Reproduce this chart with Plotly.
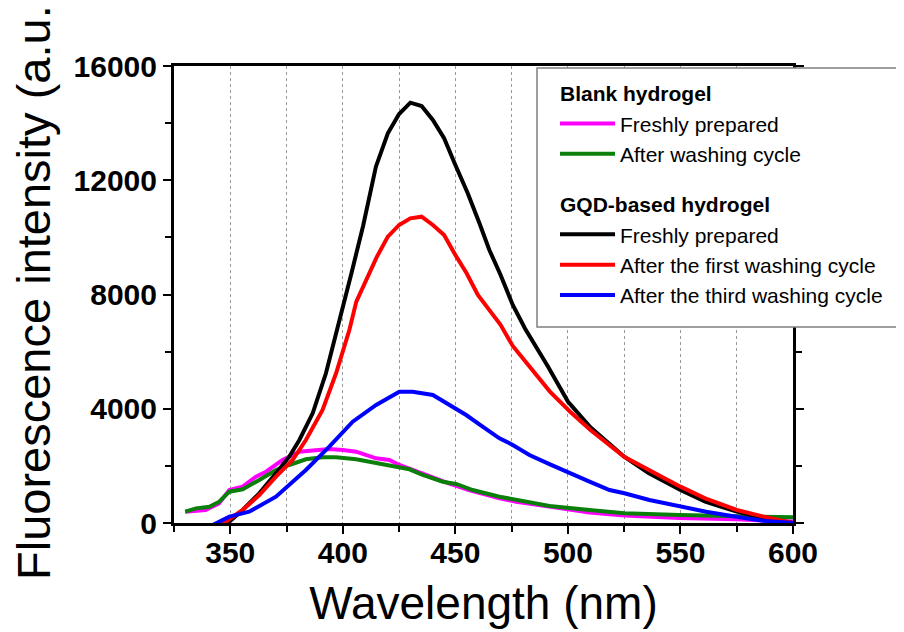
import plotly.graph_objects as go

# ---- data ----
blank_fresh_wl = [330, 339, 345, 349.6, 355.5, 361.4, 365.9, 373.2, 380.7, 389.6, 394, 400, 405.9,
                  414.8, 420.7, 425.1, 431, 440, 447.1, 456, 469.6, 477, 491.8, 509.6, 525.1,
                  549.6, 574.8, 600]
blank_fresh_int = [396, 455, 688, 1155, 1272, 1622, 1797, 2206, 2497, 2580, 2591, 2556, 2497,
                   2265, 2206, 2031, 1856, 1622, 1390, 1155, 863, 746, 571, 370, 260,
                   175, 130, 50]

blank_wash_wl = [330, 334.8, 340.7, 345.1, 349.6, 355.5, 362.9, 370.3, 376.2, 383.6, 391, 397,
                 405.9, 414.8, 425.1, 429.6, 435.5, 444.4, 450.3, 457.7, 469.6, 477, 491.8,
                 509.6, 525.1, 549.6, 574.8, 600]
blank_wash_int = [396, 513, 571, 746, 1096, 1180, 1506, 1856, 2031, 2230, 2300, 2300,
                  2230, 2090, 1915, 1880, 1681, 1446, 1366, 1155, 921, 805, 595,
                  455, 340, 280, 245, 200]

gqd_fresh_wl = [345, 349.6, 355.5, 362.9, 370.3, 376.2, 380.7, 386.6, 392.5, 398, 404, 409,
                414.7, 420, 425, 430, 435, 440, 445, 450, 455.5, 460.7, 465.1, 470, 475.5,
                481, 486, 491, 500, 510, 525, 536, 550, 561, 575, 587, 600]
gqd_fresh_int = [-100, 47, 455, 1040, 1740, 2321, 2906, 3841, 5241, 6900, 8800, 10400,
                 12475, 13645, 14320, 14716, 14600, 14110, 13470, 12535, 11545, 10494, 9559,
                 8700, 7633, 6800, 6150, 5500, 4250, 3350, 2321, 1740, 1155, 746, 396, 164, 0]

gqd_first_wl = [345, 348.1, 355.5, 362.9, 370.3, 377.7, 383.6, 391, 397, 402.9, 406, 410.4,
                415, 420, 425, 430, 435, 440, 445, 450, 455, 460, 465, 470, 475.5, 484.4,
                492, 501, 510, 525, 536, 550, 561, 575, 587, 600]
gqd_first_int = [-100, 47, 455, 980, 1622, 2206, 2906, 3957, 5241, 6758, 7750, 8508,
                 9300, 10025, 10434, 10668, 10725, 10434, 10084, 9384, 8743, 7983, 7458,
                 6950, 6200, 5357, 4600, 3897, 3256, 2321, 1856, 1272, 863, 455, 222, 0]

gqd_third_wl = [340.7, 349.6, 358.4, 370.3, 383.6, 394, 404.4, 414.8, 425.1, 431, 440, 445.9,
                454.8, 462.1, 469.6, 475.5, 482.9, 491.8, 500.7, 509.6, 518.5, 525.1, 536.2,
                549.6, 561.4, 574.8, 586.6, 600]
gqd_third_int = [-130, 222, 396, 921, 1856, 2672, 3547, 4132, 4597, 4597, 4482, 4191,
                 3781, 3372, 2966, 2731, 2381, 2060, 1740, 1446, 1155, 1040, 805,
                 571, 396, 222, 81, 0]

x_ticks = [350, 400, 450, 500, 550, 600]
y_ticks = [0, 4000, 8000, 12000, 16000]

FONT = "Liberation Sans, Arial, sans-serif"

series = [
    ("Freshly prepared", blank_fresh_wl, blank_fresh_int, "#FF00FF", "blank", "Blank hydrogel"),
    ("After washing cycle", blank_wash_wl, blank_wash_int, "#0A800A", "blank", "Blank hydrogel"),
    ("Freshly prepared", gqd_fresh_wl, gqd_fresh_int, "#000000", "gqd", "GQD-based hydrogel"),
    ("After the first washing cycle", gqd_first_wl, gqd_first_int, "#FF0000", "gqd", "GQD-based hydrogel"),
    ("After the third washing cycle", gqd_third_wl, gqd_third_int, "#0000FF", "gqd", "GQD-based hydrogel"),
]

fig = go.Figure()
for name, xs, ys, color, grp, gtitle in series:
    fig.add_trace(go.Scatter(
        x=xs, y=ys, mode="lines", name=name,
        line=dict(color=color, width=4),
        legendgroup=grp,
        legendgrouptitle=dict(text=gtitle, font=dict(family=FONT, size=21, color="black", weight="bold")),
    ))

# page has an 8px body margin; plot area targeted at x 174..793, y 66..523 in the window
PL, PR, PT, PB = 174, 793, 66, 523
PW, PH = PR - PL, PB - PT

def px(xp):
    return (xp - PL) / PW

def py(yp):
    return (PB - yp) / PH

# legend frame
fig.add_shape(type="rect", xref="paper", yref="paper",
              x0=px(537), x1=px(903), y0=py(327), y1=py(68),
              line=dict(color="#7f7f7f", width=1.5), fillcolor="white", layer="above")

# y-axis title placed as rotated text
fig.add_annotation(text="Fluorescence intensity (a.u.)", xref="paper", yref="paper",
                   x=px(33), y=py(285), xanchor="center", yanchor="middle",
                   textangle=-90, showarrow=False,
                   font=dict(family=FONT, size=47, color="black"))

fig.update_layout(
    width=896, height=624,
    margin=dict(l=PL - 8, r=896 - (PL - 8) - PW, t=PT - 8, b=624 - (PT - 8) - PH),
    paper_bgcolor="white", plot_bgcolor="white",
    font=dict(family=FONT, color="black"),
    showlegend=True,
    legend=dict(
        x=px(555), y=py(73), xanchor="left", yanchor="top",
        bgcolor="rgba(0,0,0,0)", borderwidth=0,
        font=dict(family=FONT, size=21, color="black"),
        traceorder="grouped", tracegroupgap=20, itemwidth=55,
    ),
    xaxis=dict(
        range=[325, 600], tickvals=x_ticks, automargin=False,
        showline=True, linecolor="black", linewidth=3, mirror=True,
        ticks="outside", ticklen=8, tickwidth=2, tickcolor="black",
        tickfont=dict(family=FONT, size=30, weight="bold"), ticklabelstandoff=-7,
        showgrid=True, gridcolor="#9a9a9a", griddash="dot", gridwidth=1,
        minor=dict(dtick=25, tick0=0, ticks="outside", ticklen=6, tickwidth=2, tickcolor="black",
                   showgrid=True, gridcolor="#9a9a9a", griddash="dot", gridwidth=1),
        zeroline=False,
        title=dict(text="Wavelength (nm)", font=dict(family=FONT, size=46), standoff=19),
    ),
    yaxis=dict(
        range=[0, 16000], tickvals=y_ticks, tickformat="d", automargin=False,
        showline=True, linecolor="black", linewidth=3, mirror="ticks",
        ticks="outside", ticklen=8, tickwidth=2, tickcolor="black",
        tickfont=dict(family=FONT, size=30, weight="bold"),
        showgrid=False, zeroline=False,
        minor=dict(dtick=2000, tick0=0, ticks="outside", ticklen=6, tickwidth=2, tickcolor="black"),
    ),
)

fig.write_html("out.html")
